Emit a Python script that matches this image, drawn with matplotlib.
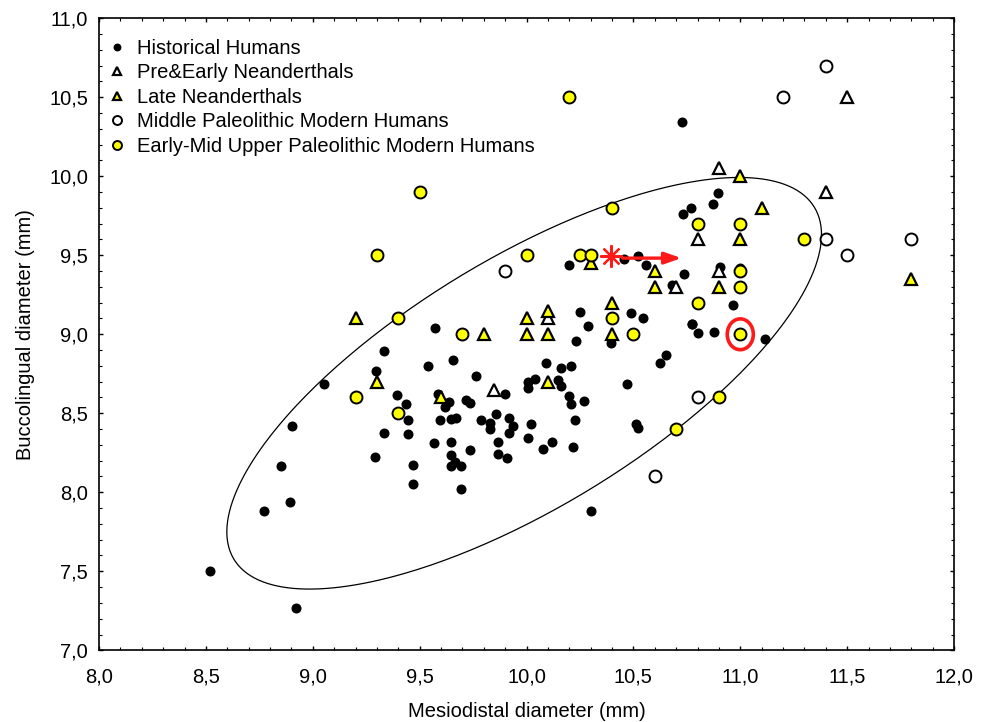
import numpy as np
import matplotlib
matplotlib.use("Agg")
import matplotlib.pyplot as plt
from matplotlib.patches import Ellipse
from matplotlib.ticker import MultipleLocator, FuncFormatter

plt.rcParams["font.family"] = ["Liberation Sans", "DejaVu Sans"]

# Historical Humans (mesiodistal, buccolingual)
hist_x = [9.57, 9.335, 9.296, 9.537, 9.656, 9.766, 9.053, 9.899, 10.09, 10.008,
          10.04, 10.008, 10.248, 10.289, 10.231, 10.159, 10.209, 10.149, 10.162, 10.2,
          10.209, 10.27, 10.229, 10.217, 10.077, 10.12, 10.008, 10.02, 9.867, 9.867,
          9.908, 9.916, 9.938, 9.916, 9.859, 9.828, 9.828, 9.787, 9.734, 9.718,
          9.737, 9.648, 9.669, 9.595, 9.645, 9.645, 9.664, 9.648, 9.695, 9.567,
          9.585, 9.617, 9.636, 9.396, 9.437, 9.446, 9.446, 9.335, 9.467, 9.293,
          8.901, 8.852, 8.892, 8.772, 8.52, 8.923, 9.471, 9.692, 10.302, 10.393,
          10.803, 10.878, 11.115, 10.651, 10.623, 10.47, 10.51, 10.521, 10.894, 10.873,
          10.734, 10.769, 10.2, 10.458, 10.521, 10.56, 10.737, 10.68, 10.906, 11.0,
          10.964, 10.776, 10.491, 10.546, 10.726, 10.776]
hist_y = [9.04, 8.896, 8.77, 8.797, 8.839, 8.739, 8.686, 8.62, 8.818, 8.696,
          8.718, 8.66, 9.144, 9.055, 8.959, 8.788, 8.797, 8.71, 8.675, 8.608,
          8.556, 8.577, 8.455, 8.287, 8.277, 8.319, 8.346, 8.43, 8.319, 8.241,
          8.216, 8.47, 8.419, 8.378, 8.497, 8.44, 8.403, 8.457, 8.266, 8.581,
          8.567, 8.461, 8.472, 8.457, 8.319, 8.237, 8.193, 8.168, 8.168, 8.309,
          8.62, 8.542, 8.571, 8.618, 8.556, 8.455, 8.367, 8.378, 8.172, 8.226,
          8.419, 8.167, 7.94, 7.88, 7.5, 7.269, 8.054, 8.02, 7.88, 8.944,
          9.005, 9.015, 8.969, 8.866, 8.816, 8.688, 8.43, 8.405, 9.893, 9.822,
          9.763, 9.799, 9.438, 9.474, 9.494, 9.438, 9.379, 9.312, 9.427, 9.421,
          9.186, 9.066, 9.137, 9.106, 10.345, 9.066]

# Pre & Early Neanderthals
pre_x = [10.9, 11.4, 11.5, 10.8, 10.7, 10.9, 10.1, 9.85]
pre_y = [10.05, 9.9, 10.5, 9.6, 9.3, 9.4, 9.1, 8.65]

# Late Neanderthals
late_x = [11.0, 11.1, 11.0, 11.8, 10.3, 10.6, 10.6, 10.9, 10.0, 10.1,
          10.0, 10.1, 10.4, 10.4, 10.1, 9.2, 9.8, 9.3, 9.6]
late_y = [10.0, 9.8, 9.6, 9.35, 9.45, 9.4, 9.3, 9.3, 9.1, 9.15,
          9.0, 9.0, 9.2, 9.0, 8.7, 9.1, 9.0, 8.7, 8.6]

# Middle Paleolithic Modern Humans
mp_x = [11.4, 11.2, 11.4, 11.5, 11.8, 9.9, 10.8, 10.6]
mp_y = [10.7, 10.5, 9.6, 9.5, 9.6, 9.4, 8.6, 8.1]

# Early-Mid Upper Paleolithic Modern Humans
up_x = [10.2, 9.5, 9.3, 10.0, 10.25, 10.3, 10.4, 10.8, 11.0, 11.3, 11.0,
        11.0, 10.8, 10.4, 10.5, 11.0, 9.4, 9.7, 9.2, 9.4, 10.9, 10.7]
up_y = [10.5, 9.9, 9.5, 9.5, 9.5, 9.5, 9.8, 9.7, 9.7, 9.6, 9.4,
        9.3, 9.2, 9.1, 9.0, 9.0, 9.1, 9.0, 8.6, 8.5, 8.6, 8.4]

labels = ["Historical Humans", "Pre&Early Neanderthals", "Late Neanderthals",
          "Middle Paleolithic Modern Humans", "Early-Mid Upper Paleolithic Modern Humans"]

# 95% ellipse (centre, half extents, correlation)
ell_center = (9.989, 8.69)
ell_half = (1.391, 1.3025)
ell_rho = 0.722

# specimen of interest and its shift
star_pt = (10.397, 9.496)
arrow_from = (10.45, 9.482)
arrow_to = (10.725, 9.482)
ring_pt = (11.0, 9.0)

YELLOW = "#ffff00"

fig = plt.figure(figsize=(9.91, 7.22), dpi=100)
ax = fig.add_axes([0.0999, 0.0993, 0.8628, 0.8754])

t = np.linspace(0, 2 * np.pi, 400)
ex = ell_center[0] + ell_half[0] * np.cos(t)
ey = ell_center[1] + ell_half[1] * (ell_rho * np.cos(t) + np.sqrt(1 - ell_rho ** 2) * np.sin(t))
ax.plot(ex, ey, color="black", linewidth=0.9, zorder=2)

ax.plot(hist_x, hist_y, "o", color="black", markersize=6.2, linestyle="none",
        label=labels[0], zorder=3)
ax.plot(pre_x, pre_y, "^", markerfacecolor="white", markeredgecolor="black",
        markeredgewidth=1.6, markersize=8.5, linestyle="none", label=labels[1], zorder=4)
ax.plot(late_x, late_y, "^", markerfacecolor=YELLOW, markeredgecolor="black",
        markeredgewidth=1.6, markersize=8.5, linestyle="none", label=labels[2], zorder=4)
ax.plot(mp_x, mp_y, "o", markerfacecolor="white", markeredgecolor="black",
        markeredgewidth=1.4, markersize=8.6, linestyle="none", label=labels[3], zorder=4)
ax.plot(up_x, up_y, "o", markerfacecolor=YELLOW, markeredgecolor="black",
        markeredgewidth=1.4, markersize=8.6, linestyle="none", label=labels[4], zorder=4)

# red annotations
ax.plot(*star_pt, marker=(8, 2, 0), color="#ff1a1a", markersize=16,
        markeredgewidth=1.6, zorder=6)
ax.annotate("", xy=arrow_to, xytext=arrow_from,
            arrowprops=dict(arrowstyle="-|>,head_length=1.0,head_width=0.35",
                            color="#ff1a1a", lw=2.4, shrinkA=0, shrinkB=0), zorder=6)
ax.add_patch(Ellipse(ring_pt, 0.122, 0.195, fill=False, edgecolor="#ff1a1a",
                     linewidth=2.6, zorder=6))

ax.set_xlim(8.0, 12.0)
ax.set_ylim(7.0, 11.0)
ax.xaxis.set_major_locator(MultipleLocator(0.5))
ax.xaxis.set_minor_locator(MultipleLocator(0.1))
ax.yaxis.set_major_locator(MultipleLocator(0.5))
ax.yaxis.set_minor_locator(MultipleLocator(0.1))
comma = FuncFormatter(lambda v, pos: f"{v:.1f}".replace(".", ","))
ax.xaxis.set_major_formatter(comma)
ax.yaxis.set_major_formatter(comma)
ax.tick_params(which="both", direction="in", top=True, right=True, labelsize=14.5)
ax.tick_params(which="major", length=3.2, width=1)
ax.tick_params(which="minor", length=2.2, width=0.8)
ax.tick_params(axis="x", which="major", pad=12.5)
ax.tick_params(axis="y", which="major", pad=8)
for side in ax.spines.values():
    side.set_linewidth(1.2)

ax.set_xlabel("Mesiodistal diameter (mm)", fontsize=14.5, labelpad=11)
ax.set_ylabel("Buccolingual diameter (mm)", fontsize=14.5, labelpad=10)

ax.legend(loc="upper left", bbox_to_anchor=(0.0117, 0.9675), frameon=False,
          fontsize=14.5, markerscale=0.75, handlelength=0.8, handletextpad=0.6,
          labelspacing=0.27, borderaxespad=0, borderpad=0)

fig.savefig("out.png", dpi=100)
